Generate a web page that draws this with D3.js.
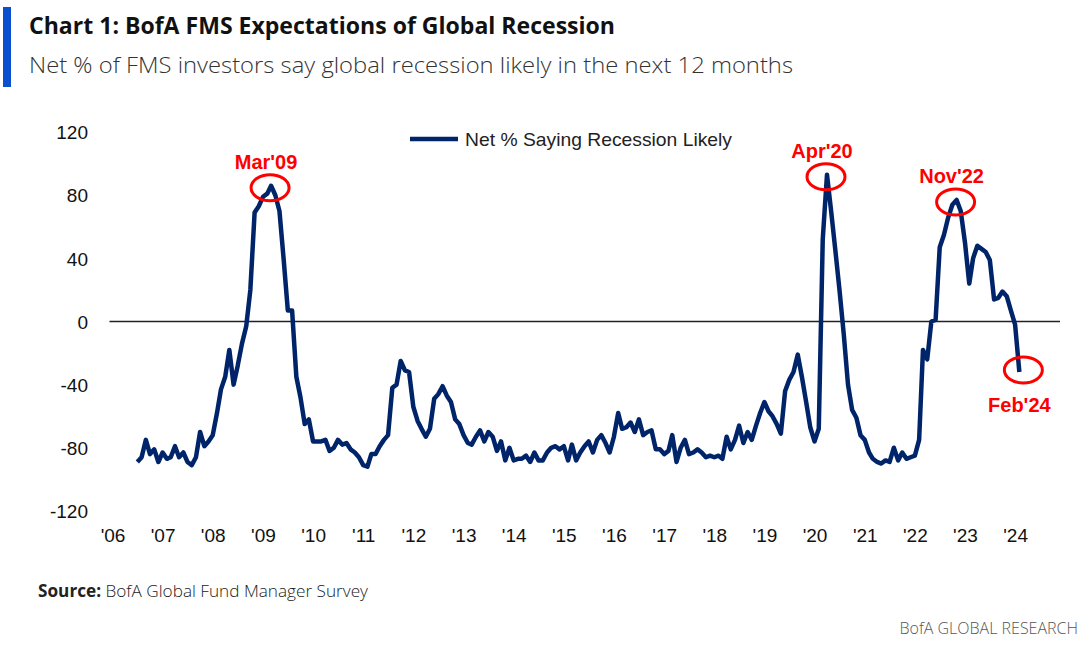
<!DOCTYPE html>
<html>
<head>
<meta charset="utf-8">
<script src="https://cdn.jsdelivr.net/npm/d3@7"></script>
<style>
  html, body { margin: 0; padding: 0; background: #fff; }
  svg { display: block; }
</style>
</head>
<body>
<svg id="chart" width="1089" height="658"></svg>
<script>
// ---------------- DATA ----------------
const seriesName = "Net % Saying Recession Likely";
const startMonth = "2006-07";   // first monthly observation
const values = [
  -89, -86, -75, -84, -81, -89,                 // Jul-Dec 2006
  -83, -87, -86, -79, -86, -83, -89, -91, -86, -70, -79, -76, // 2007
  -72, -58, -43, -35, -18, -40, -28, -14, -3, 20, 69, 73,      // 2008
  79, 81, 86, 80, 70, 39, 7, 7, -35, -48, -65, -62,            // 2009
  -76, -76, -76, -75, -82, -80, -75, -78, -77, -81, -83, -86,  // 2010
  -91, -92, -84, -84, -79, -75, -72, -42, -40, -25, -31, -32,  // 2011
  -54, -63, -68, -73, -68, -49, -46, -41, -47, -51, -62, -65,  // 2012
  -72, -77, -78, -73, -69, -76, -70, -73, -82, -76, -88, -80,  // 2013
  -88, -87, -87, -85, -89, -83, -88, -88, -83, -80, -79, -81,  // 2014
  -79, -88, -78, -88, -83, -79, -76, -83, -75, -72, -77, -83,  // 2015
  -73, -58, -68, -67, -64, -70, -62, -72, -70, -69, -81, -81,  // 2016
  -84, -82, -72, -89, -80, -75, -84, -83, -81, -83, -86, -85,  // 2017
  -86, -85, -87, -73, -81, -75, -66, -77, -70, -75, -66, -58,  // 2018
  -51, -57, -60, -65, -71, -44, -37, -32, -21, -35, -51, -67,  // 2019
  -76, -68, 52, 93, 70, 45, 20, -8, -40, -56, -61, -72,        // 2020
  -75, -83, -87, -89, -90, -88, -89, -80, -88, -83, -87, -86,  // 2021
  -85, -75, -18, -24, 0, 1, 47, 55, 66, 74, 77, 70,            // 2022
  50, 24, 40, 48, 46, 44, 39, 14, 15, 19, 16, 7,               // 2023
  -2, -32                                                      // Jan-Feb 2024
];
const yTicks = [120, 80, 40, 0, -40, -80, -120];
const xTickYears = [2006, 2007, 2008, 2009, 2010, 2011, 2012, 2013, 2014, 2015,
                    2016, 2017, 2018, 2019, 2020, 2021, 2022, 2023, 2024];
const xTickLabels = ["'06","'07","'08","'09","'10","'11","'12","'13","'14","'15",
                     "'16","'17","'18","'19","'20","'21","'22","'23","'24"];
const annotLabels = ["Mar'09", "Apr'20", "Nov'22", "Feb'24"];
const annotMonths = ["2009-03", "2020-04", "2022-11", "2024-02"];
const annotSide   = ["above", "above", "above", "below"];

const titleText = "Chart 1: BofA FMS Expectations of Global Recession";
const subtitleText = "Net % of FMS investors say global recession likely in the next 12 months";
const sourceBold = "Source:";
const sourceText = " BofA Global Fund Manager Survey";
const brandText = "BofA GLOBAL RESEARCH";

// ---------------- CHART ----------------
const svg = d3.select("#chart");
const parseMonth = d3.timeParse("%Y-%m");
const start = parseMonth(startMonth);
const data = values.map((v, i) => ({ date: d3.timeMonth.offset(start, i), value: v }));

const x = d3.scaleTime()
  .domain([new Date(2006, 0, 1), new Date(2025, 0, 1)])
  .range([112.5, 1065.35]);
const y = d3.scaleLinear().domain([-120, 120]).range([510.9, 132.1]);

const axisFont = "'Liberation Sans', Arial, sans-serif";
const navy = "#002469";

// Header
svg.append("rect").attr("x", 3).attr("y", 7).attr("width", 8).attr("height", 80).attr("fill", "#0a4fce");
svg.append("text").attr("x", 29).attr("y", 34)
  .attr("font-family", "'Open Sans', sans-serif").attr("font-weight", 700)
  .attr("font-size", 24).attr("fill", "#111")
  .attr("textLength", 586).attr("lengthAdjust", "spacingAndGlyphs")
  .text(titleText);
svg.append("text").attr("x", 29).attr("y", 73)
  .attr("font-family", "'Open Sans', sans-serif").attr("font-weight", 300)
  .attr("font-size", 22).attr("fill", "#333")
  .attr("textLength", 764).attr("lengthAdjust", "spacingAndGlyphs")
  .text(subtitleText);

// Y axis (labels only)
const yAxis = d3.axisLeft(y).tickValues(yTicks).tickSize(0).tickPadding(0).tickFormat(d => String(d));
const gy = svg.append("g").attr("transform", "translate(88,0)").call(yAxis);
gy.select(".domain").remove();
gy.selectAll("text").attr("font-family", axisFont).attr("font-size", 19).attr("fill", "#111")
  .attr("dy", "0.35em");

// X axis (labels only)
const xAxis = d3.axisBottom(x)
  .tickValues(xTickYears.map(yr => new Date(yr, 0, 1)))
  .tickSize(0).tickPadding(0)
  .tickFormat((d, i) => xTickLabels[i]);
const gx = svg.append("g").attr("transform", "translate(0,528)").call(xAxis);
gx.select(".domain").remove();
gx.selectAll("text").attr("font-family", axisFont).attr("font-size", 19).attr("fill", "#111")
  .attr("dy", "0.71em");

// Zero line
svg.append("line")
  .attr("x1", x(new Date(2006, 0, 1)) - 3).attr("x2", 1060)
  .attr("y1", y(0)).attr("y2", y(0))
  .attr("stroke", "#222").attr("stroke-width", 1.6);

// Series line
const line = d3.line().x(d => x(d.date)).y(d => y(d.value));
svg.append("path").datum(data)
  .attr("d", line).attr("fill", "none")
  .attr("stroke", navy).attr("stroke-width", 4.5)
  .attr("stroke-linejoin", "round").attr("stroke-linecap", "butt");

// Legend
svg.append("line").attr("x1", 410).attr("x2", 458).attr("y1", 139).attr("y2", 139)
  .attr("stroke", navy).attr("stroke-width", 4.5);
svg.append("text").attr("x", 465).attr("y", 139).attr("dy", "0.35em")
  .attr("font-family", axisFont).attr("font-size", 19).attr("fill", "#222")
  .attr("textLength", 267).attr("lengthAdjust", "spacingAndGlyphs")
  .text(seriesName);

// Annotations
annotLabels.forEach((lab, i) => {
  const d = parseMonth(annotMonths[i]);
  const pt = data.find(p => +p.date === +d);
  const px = x(pt.date), py = y(pt.value);
  const below = annotSide[i] === "below";
  svg.append("ellipse")
    .attr("cx", px + (below ? 4 : -1)).attr("cy", py + (below ? -2 : 2))
    .attr("rx", 19).attr("ry", 13)
    .attr("fill", "none").attr("stroke", "#ff0000").attr("stroke-width", 3);
  svg.append("text")
    .attr("x", below ? px : px - 5)
    .attr("y", below ? py + 40 : py - 17)
    .attr("text-anchor", "middle")
    .attr("font-family", axisFont).attr("font-weight", 700).attr("font-size", 20)
    .attr("fill", "#ff0000")
    .text(lab);
});

// Footer
const src = svg.append("text").attr("x", 38).attr("y", 597)
  .attr("font-family", "'Open Sans', sans-serif").attr("font-size", 17).attr("fill", "#222")
  .attr("textLength", 330).attr("lengthAdjust", "spacingAndGlyphs");
src.append("tspan").attr("font-weight", 700).text(sourceBold);
src.append("tspan").attr("font-weight", 300).text(sourceText);

svg.append("text").attr("x", 1078).attr("y", 634).attr("text-anchor", "end")
  .attr("font-family", "'Open Sans', sans-serif").attr("font-weight", 300)
  .attr("font-size", 16).attr("fill", "#555")
  .text(brandText);
</script>
</body>
</html>
